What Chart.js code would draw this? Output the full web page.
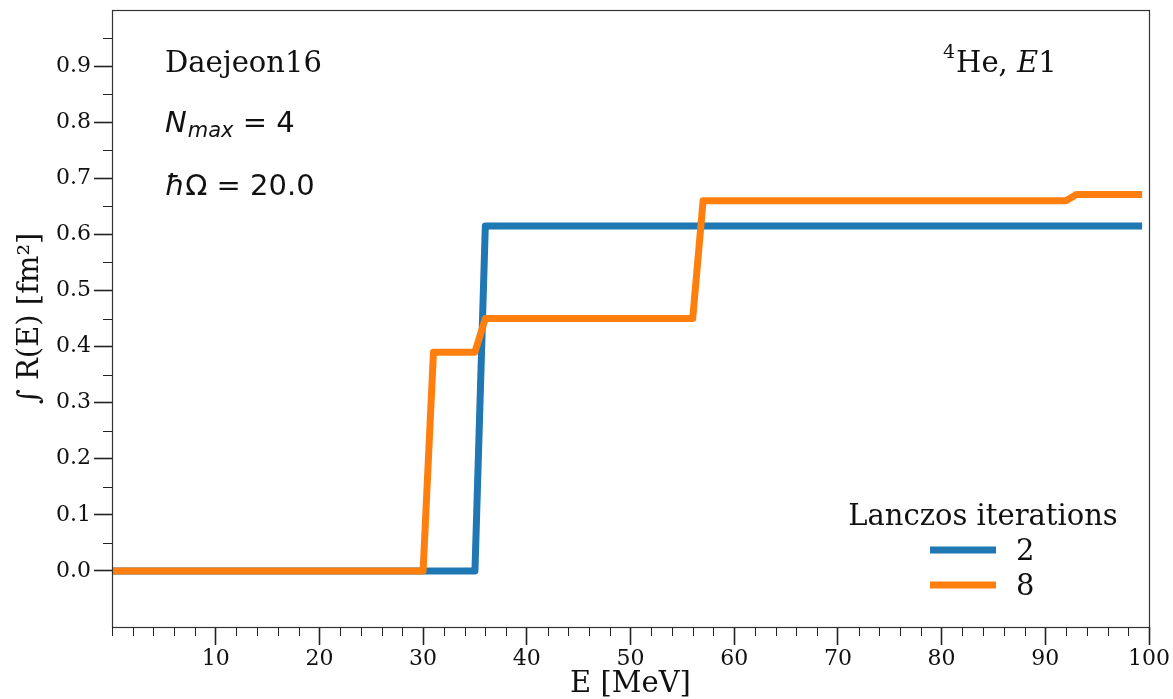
<!DOCTYPE html>
<html>
<head>
<meta charset="utf-8">
<script src="https://cdn.jsdelivr.net/npm/chart.js@4.4.0/dist/chart.umd.min.js"></script>
<style>
  html, body { margin: 0; padding: 0; background: #fff; }
  #wrap { width: 1173px; height: 699px; position: relative; }
</style>
</head>
<body>
<div id="wrap"><canvas id="c"></canvas></div>
<script>
/* ---------- data ---------- */
const E_ITER2 = [0, 35, 36, 99];
const R_ITER2 = [0, 0, 0.615, 0.615];
const E_ITER8 = [0, 30, 31, 35, 36, 56, 57, 92, 93, 99];
const R_ITER8 = [0, 0, 0.39, 0.39, 0.45, 0.45, 0.66, 0.66, 0.671, 0.671];
const SERIES_LABELS = ["2", "8"];
const X_MAJOR = [10, 20, 30, 40, 50, 60, 70, 80, 90, 100];
const Y_MAJOR = [0.0, 0.1, 0.2, 0.3, 0.4, 0.5, 0.6, 0.7, 0.8, 0.9];
const X_MINOR_STEP = 2;
const Y_MINOR_STEP = 0.1;

const SERIF = "'DejaVu Serif', serif";
const SANS = "'DejaVu Sans', sans-serif";
const BLUE = "#1f77b4";
const ORANGE = "#ff7f0e";
const INK = "#111";
const FS = 29;   // 본문 글자 크기
const TS = 22;   // 눈금 글자 크기

const pts = (xs, ys) => xs.map((x, i) => ({ x, y: ys[i] }));

/* minor ticks: x every 2 (skip majors), y at 0.05 + k*0.1 */
const xMinor = [];
for (let v = 0; v < 100; v += X_MINOR_STEP) if (v % 10 !== 0 || v === 0) xMinor.push(v);
const yMinor = [];
for (let k = 0; k < 10; k++) yMinor.push(0.05 + k * Y_MINOR_STEP);

/* 프레임 + 마이너 틱 + 주석 + 범례 */
const decor = {
  id: "decor",
  afterDraw(chart) {
    const { ctx, chartArea: a } = chart;
    const xs = chart.scales.x, ys = chart.scales.y;
    ctx.save();

    // frame
    ctx.strokeStyle = "#333";
    ctx.lineWidth = 1.2;
    ctx.strokeRect(a.left + 0.5, a.top + 0.5, a.right - a.left, a.bottom - a.top);

    // minor ticks
    ctx.strokeStyle = "#222";
    ctx.lineWidth = 1;
    ctx.beginPath();
    xMinor.forEach((v) => {
      const px = Math.round(xs.getPixelForValue(v)) + 0.5;
      ctx.moveTo(px, a.bottom);
      ctx.lineTo(px, a.bottom + 9);
    });
    yMinor.forEach((v) => {
      const py = Math.round(ys.getPixelForValue(v)) + 0.5;
      ctx.moveTo(a.left, py);
      ctx.lineTo(a.left - 9, py);
    });
    ctx.stroke();

    // annotations (top-left)
    ctx.fillStyle = INK;
    ctx.textBaseline = "alphabetic";
    ctx.textAlign = "left";
    ctx.font = `${FS}px ${SERIF}`;
    ctx.fillText("Daejeon16", 165, 72);

    let x = 165;
    ctx.font = `italic ${FS}px ${SANS}`;
    ctx.fillText("N", x, 132);
    x += ctx.measureText("N").width + 1;
    ctx.font = `italic 21px ${SANS}`;
    ctx.fillText("max", x, 137);
    x += ctx.measureText("max").width;
    ctx.font = `${FS}px ${SANS}`;
    ctx.fillText(" = 4", x, 132);

    x = 165;
    ctx.font = `italic ${FS}px ${SANS}`;
    ctx.fillText("ħ", x, 195);
    x += ctx.measureText("ħ").width;
    ctx.font = `${FS}px ${SANS}`;
    ctx.fillText("Ω = 20.0", x, 195);

    // annotation (top-right)
    x = 943;
    ctx.font = `19px ${SERIF}`;
    ctx.fillText("4", x, 58);
    x += ctx.measureText("4").width + 1;
    ctx.font = `${FS}px ${SERIF}`;
    ctx.fillText("He, ", x, 72);
    x += ctx.measureText("He, ").width;
    ctx.font = `italic ${FS}px ${SERIF}`;
    ctx.fillText("E", x, 72);
    x += ctx.measureText("E").width;
    ctx.font = `${FS}px ${SERIF}`;
    ctx.fillText("1", x, 72);

    // legend
    ctx.textAlign = "center";
    ctx.font = `${FS}px ${SERIF}`;
    ctx.fillText("Lanczos iterations", 983, 525);
    chart.data.datasets.forEach((ds, i) => {
      const ly = 550 + i * 35;
      ctx.strokeStyle = ds.borderColor;
      ctx.lineWidth = 7;
      ctx.lineCap = "butt";
      ctx.beginPath();
      ctx.moveTo(930, ly);
      ctx.lineTo(996, ly);
      ctx.stroke();
      ctx.textAlign = "left";
      ctx.fillStyle = INK;
      ctx.fillText(ds.label, 1016, ly + 10);
    });

    ctx.restore();
  },
};

const noPad = (s) => { s.paddingTop = 0; s.paddingBottom = 0; s.paddingLeft = 0; s.paddingRight = 0; };

new Chart(document.getElementById("c"), {
  type: "line",
  data: {
    datasets: [
      { label: SERIES_LABELS[0], data: pts(E_ITER2, R_ITER2), borderColor: BLUE, order: 1 },
      { label: SERIES_LABELS[1], data: pts(E_ITER8, R_ITER8), borderColor: ORANGE, order: 0 },
    ],
  },
  options: {
    responsive: true,
    maintainAspectRatio: false,
    animation: false,
    devicePixelRatio: 1,
    layout: { padding: { top: 10, right: 24, left: 0, bottom: 0 } },
    elements: {
      line: { borderWidth: 7, tension: 0, borderJoinStyle: "round", borderCapStyle: "square", fill: false },
      point: { radius: 0, hoverRadius: 0 },
    },
    datasets: { line: { clip: 0 } },
    scales: {
      x: {
        type: "linear",
        min: 0,
        max: 100,
        afterFit: (s) => { s.height = 72; noPad(s); },
        afterBuildTicks: (s) => { s.ticks = X_MAJOR.map((v) => ({ value: v })); },
        border: { display: false },
        grid: { drawOnChartArea: false, drawTicks: true, tickLength: 18, tickWidth: 1.6, tickColor: "#222" },
        ticks: {
          autoSkip: false, maxRotation: 0, padding: 1, color: INK,
          font: { family: SERIF, size: TS },
          callback: (v) => String(v),
        },
        title: {
          display: true, text: "E [MeV]", color: INK,
          font: { family: SERIF, size: FS, lineHeight: 1 },
          padding: { top: 0, bottom: 0 },
        },
      },
      y: {
        min: -0.1,
        max: 1.0,
        afterFit: (s) => { s.width = 112; noPad(s); },
        afterBuildTicks: (s) => { s.ticks = Y_MAJOR.map((v) => ({ value: v })); },
        border: { display: false },
        grid: { drawOnChartArea: false, drawTicks: true, tickLength: 18, tickWidth: 1.6, tickColor: "#222" },
        ticks: {
          autoSkip: false, padding: 3, color: INK,
          font: { family: SERIF, size: TS },
          callback: (v) => Number(v).toFixed(1),
        },
        title: {
          display: true, text: "∫ R(E) [fm²]", color: INK,
          font: { family: SERIF, size: FS, lineHeight: 1 },
          padding: { top: 16, bottom: 0 },
        },
      },
    },
    plugins: { legend: { display: false }, tooltip: { enabled: false } },
  },
  plugins: [decor],
});
</script>
</body>
</html>
